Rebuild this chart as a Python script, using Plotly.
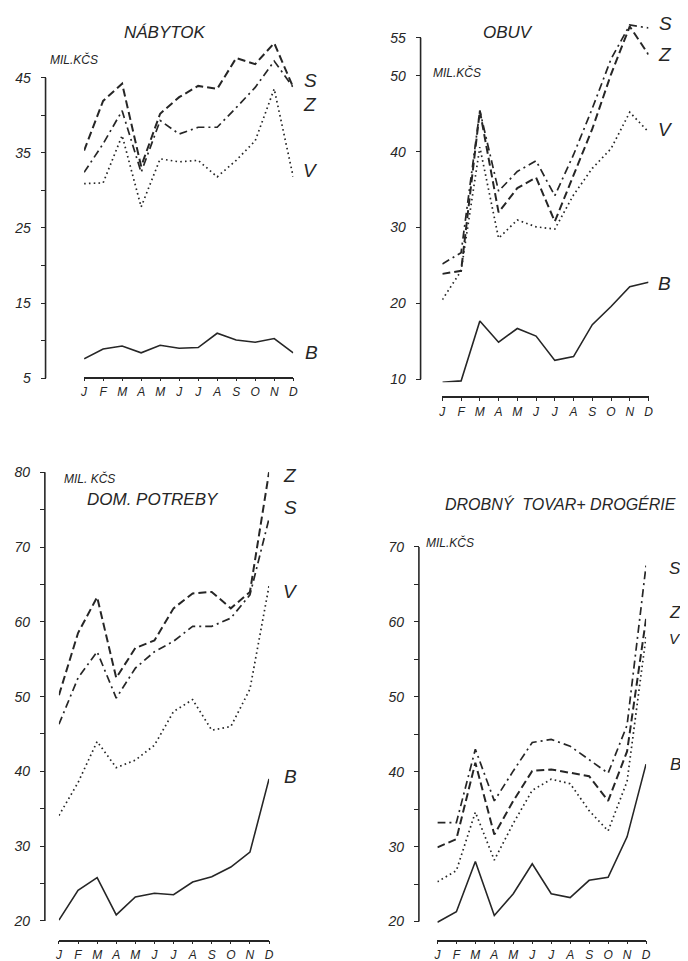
import plotly.graph_objects as go

W, H = 688, 961

months = ["J", "F", "M", "A", "M", "J", "J", "A", "S", "O", "N", "D"]

# ---- NÁBYTOK ----
nab_Z = [35.3, 41.9, 44.2, 33.2, 40.2, 42.4, 43.9, 43.5, 47.6, 46.8, 49.6, 43.7]
nab_S = [32.4, 36.2, 40.6, 32.4, 39.3, 37.5, 38.4, 38.4, 41.0, 43.7, 47.2, 43.7]
nab_V = [30.9, 31.0, 37.3, 27.8, 34.2, 33.8, 34.0, 31.8, 34.0, 36.6, 43.5, 31.8]
nab_B = [7.6, 8.9, 9.3, 8.4, 9.4, 9.0, 9.1, 11.0, 10.1, 9.8, 10.3, 8.4]
nab_ticks = [5, 15, 25, 35, 45]
nab_minor = [10, 20, 30, 40]

# ---- OBUV ----
obu_S = [25.2, 26.7, 45.4, 34.8, 37.4, 38.8, 34.2, 39.6, 45.7, 52.2, 56.7, 56.3]
obu_Z = [23.9, 24.3, 45.4, 32.0, 35.2, 36.6, 30.8, 37.0, 43.0, 50.2, 56.5, 52.8]
obu_V = [20.5, 24.3, 40.6, 28.6, 31.0, 30.1, 29.8, 34.3, 37.8, 40.4, 45.2, 42.6]
obu_B = [9.6, 9.8, 17.7, 14.9, 16.7, 15.7, 12.5, 13.0, 17.2, 19.6, 22.2, 22.8]
obu_ticks = [10, 20, 30, 40, 50, 55]
obu_minor = []

# ---- DOM. POTREBY ----
dom_Z = [50.2, 58.5, 63.3, 52.5, 56.5, 57.5, 61.8, 63.8, 64.0, 61.8, 64.0, 80.0]
dom_S = [46.3, 52.5, 56.0, 49.8, 53.8, 56.0, 57.4, 59.4, 59.4, 60.5, 63.6, 73.8]
dom_V = [34.1, 38.5, 44.0, 40.5, 41.5, 43.5, 48.0, 49.6, 45.5, 46.0, 51.0, 64.8]
dom_B = [20.1, 24.1, 25.8, 20.8, 23.2, 23.7, 23.5, 25.2, 25.9, 27.2, 29.2, 39.0]
dom_ticks = [20, 30, 40, 50, 60, 70, 80]
dom_minor = [25, 35, 45, 55, 65, 75]

# ---- DROBNÝ TOVAR + DROGÉRIE ----
dro_S = [33.2, 33.2, 43.0, 36.1, 40.1, 43.9, 44.3, 43.4, 41.6, 39.8, 46.2, 67.5]
dro_Z = [29.9, 31.0, 41.2, 31.6, 36.1, 40.1, 40.3, 39.8, 39.4, 36.1, 42.7, 60.4]
dro_V = [25.3, 26.8, 34.6, 28.2, 33.1, 37.5, 39.0, 38.4, 34.8, 32.1, 38.7, 58.0]
dro_B = [19.9, 21.3, 28.0, 20.8, 23.7, 27.7, 23.7, 23.2, 25.5, 25.9, 31.3, 41.0]
dro_ticks = [20, 30, 40, 50, 60, 70]
dro_minor = [25, 35, 45, 55, 65]

INK = "#262626"
FONT = "Liberation Sans"
STY = {
    "Z": dict(dash="8px,4px", width=2.0),
    "S": dict(dash="8px,4px,2px,4px", width=1.7),
    "V": dict(dash="1.6px,3.2px", width=1.7),
    "B": dict(dash="solid", width=1.6),
}


def px_x(px):
    return px / W


def px_y(py):
    return 1 - py / H


# panel geometry (pixel positions in the reference)
panels = [
    dict(series={"Z": nab_Z, "S": nab_S, "V": nab_V, "B": nab_B}, ticks=nab_ticks, minor=nab_minor,
         yax_px=34, lo=(5, 372.3), hi=(45, 70), top_px=18,
         x_lo=73, x_hi=285, xline_px=371.5),
    dict(series={"Z": obu_Z, "S": obu_S, "V": obu_V, "B": obu_B}, ticks=obu_ticks, minor=obu_minor,
         yax_px=414, lo=(10, 373.3), hi=(55, 30), top_px=6,
         x_lo=436, x_hi=645, xline_px=391.5),
    dict(series={"Z": dom_Z, "S": dom_S, "V": dom_V, "B": dom_B}, ticks=dom_ticks, minor=dom_minor,
         yax_px=33.3, lo=(20, 917.7), hi=(80, 466.7), top_px=455,
         x_lo=47.5, x_hi=260.5, xline_px=937.5),
    dict(series={"Z": dro_Z, "S": dro_S, "V": dro_V, "B": dro_B}, ticks=dro_ticks, minor=dro_minor,
         yax_px=412.3, lo=(20, 918.3), hi=(70, 541.7), top_px=525,
         x_lo=431, x_hi=642.5, xline_px=937.5),
]

fig = go.Figure()
shapes = []
for i, p in enumerate(panels):
    n = "" if i == 0 else str(i + 1)
    xa, ya = "x" + n, "y" + n
    (v_lo, py_lo), (v_hi, py_hi) = p["lo"], p["hi"]
    scale = (py_lo - py_hi) / (v_hi - v_lo)
    bot_px = py_lo + 3
    r0 = v_lo - 3 / scale
    r1 = v_hi + (py_hi - p["top_px"]) / scale
    for key in ["Z", "S", "V", "B"]:
        fig.add_trace(go.Scatter(
            x=list(range(12)), y=p["series"][key], mode="lines", name=key,
            xaxis=xa, yaxis=ya, showlegend=False, hoverinfo="skip",
            line=dict(color=INK, shape="linear", **STY[key]),
        ))
    tv = p["ticks"] + p["minor"]
    tt = [str(t) for t in p["ticks"]] + [""] * len(p["minor"])
    fig.update_layout({
        "xaxis" + n: dict(
            domain=[px_x(p["x_lo"]), px_x(p["x_hi"])], range=[-0.003, 11.003],
            anchor="free", position=px_y(p["xline_px"]),
            tickvals=list(range(12)), ticktext=months, ticks="outside", ticklen=3,
            tickwidth=1.3, tickcolor=INK, showline=True, linecolor=INK, linewidth=1.6,
            showgrid=False, zeroline=False, fixedrange=True,
            tickfont=dict(family=FONT, size=12, color=INK, style="italic"),
        ),
        "yaxis" + n: dict(
            domain=[px_y(bot_px), px_y(p["top_px"])], range=[r0, r1],
            anchor="free", position=px_x(p["yax_px"]),
            tickvals=tv, ticktext=tt, ticks="outside", ticklen=5, tickwidth=1.3,
            tickcolor=INK, showline=False, showgrid=False, zeroline=False,
            ticklabelstandoff=7,
            tickfont=dict(family=FONT, size=14, color=INK, style="italic"),
            fixedrange=True,
        ),
    })
    shapes.append(dict(type="line", xref="paper", yref=ya,
                       x0=px_x(p["yax_px"]), x1=px_x(p["yax_px"]),
                       y0=v_lo, y1=v_hi, line=dict(color=INK, width=1.6)))

texts = [
    ("NÁBYTOK", 155, 25, 17),
    ("MIL.KČS", 63, 52, 12),
    ("S", 302, 73, 19), ("Z", 302, 97, 19), ("V", 302, 163, 19), ("B", 303, 346, 19),
    ("OBUV", 503, 25, 17),
    ("MIL.KČS", 451, 65, 12),
    ("S", 662, 16, 19), ("Z", 662, 47, 19), ("V", 662, 122, 19), ("B", 661, 277, 19),
    ("MIL. KČS", 79, 473, 12),
    ("DOM. POTREBY", 143, 494, 17),
    ("Z", 282, 470, 19), ("S", 282, 502, 19), ("V", 282, 587, 19), ("B", 282, 773, 19),
    ("DROBNÝ  TOVAR+ DROGÉRIE", 556, 499, 16),
    ("MIL.KČS", 444, 537, 12),
    ("S", 672, 563, 17), ("Z", 672, 608, 17), ("V", 672, 634, 15), ("B", 672, 760, 17),
]
annotations = [
    dict(text=t, x=px_x(x), y=px_y(y), xref="paper", yref="paper",
         xanchor="center", yanchor="middle", showarrow=False,
         font=dict(family=FONT, size=s, color=INK, style="italic"))
    for t, x, y, s in texts
]

fig.update_layout(
    width=W, height=H, margin=dict(l=0, r=0, t=0, b=0),
    paper_bgcolor="white", plot_bgcolor="rgba(0,0,0,0)",
    shapes=shapes, annotations=annotations, showlegend=False,
)

fig.write_html("out.html")
